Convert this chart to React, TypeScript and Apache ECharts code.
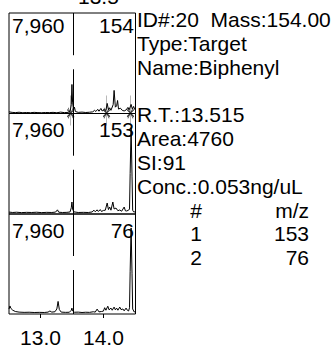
import React, { useEffect, useRef } from "react";
import * as echarts from "echarts";

// Retention-time window shown in every trace panel (minutes)
const rtMin = 12.5;
const rtMax = 14.51;
const timeTicks = [13.0, 14.0];
const topTimeLabel = "13.5";

// All panels share one intensity full scale
const fullScale = 7960;
const retentionTime = 13.515;

// Extracted-ion traces: [retention time, intensity]
const ionLabels = ["154", "153", "76"];

const trace154: number[][] = [
  [12.5, 130], [12.55, 90], [12.6, 70], [12.66, 100], [12.72, 60], [12.78, 80],
  [12.84, 60], [12.9, 90], [12.96, 70], [13.02, 60], [13.08, 80], [13.14, 70],
  [13.2, 90], [13.26, 60], [13.32, 110], [13.38, 70], [13.44, 90], [13.47, 150],
  [13.49, 700], [13.5, 2300], [13.51, 900], [13.525, 300], [13.54, 500], [13.555, 160],
  [13.6, 90], [13.66, 110], [13.72, 80], [13.78, 100], [13.83, 130], [13.86, 250],
  [13.88, 160], [13.91, 330], [13.93, 180], [13.96, 400], [13.98, 200], [14.01, 300],
  [14.04, 250], [14.06, 800], [14.08, 300], [14.1, 450], [14.12, 250], [14.155, 700],
  [14.17, 1830], [14.19, 500], [14.21, 600], [14.225, 1030], [14.24, 350], [14.27, 420],
  [14.3, 250], [14.33, 200], [14.36, 280], [14.39, 480], [14.41, 300], [14.44, 720],
  [14.46, 350], [14.48, 560], [14.5, 300],
];

const trace153: number[][] = [
  [12.5, 150], [12.56, 120], [12.62, 140], [12.7, 110], [12.78, 130], [12.86, 120],
  [12.94, 140], [13.02, 110], [13.1, 130], [13.18, 120], [13.24, 150], [13.27, 330],
  [13.29, 140], [13.35, 120], [13.42, 130], [13.47, 160], [13.49, 500], [13.5, 950],
  [13.51, 400], [13.53, 170], [13.6, 120], [13.68, 130], [13.76, 120], [13.82, 160],
  [13.85, 300], [13.87, 180], [13.9, 330], [13.92, 200], [13.95, 350], [13.97, 200],
  [14.0, 280], [14.03, 300], [14.06, 870], [14.08, 350], [14.1, 550], [14.12, 300],
  [14.15, 950], [14.17, 400], [14.2, 470], [14.23, 260], [14.26, 320], [14.29, 220],
  [14.33, 550], [14.35, 250], [14.37, 240], [14.4, 300], [14.415, 400], [14.425, 3200],
  [14.44, 6850], [14.455, 3000], [14.465, 300], [14.48, 170], [14.51, 160],
];

const trace76: number[][] = [
  [12.5, 400], [12.515, 640], [12.53, 450], [12.56, 300], [12.6, 200], [12.66, 150],
  [12.74, 130], [12.82, 140], [12.9, 120], [12.98, 130], [13.06, 120], [13.12, 150],
  [13.15, 240], [13.18, 150], [13.23, 180], [13.26, 400], [13.28, 1000], [13.3, 350],
  [13.33, 150], [13.4, 130], [13.46, 140], [13.49, 300], [13.5, 470], [13.51, 250],
  [13.54, 140], [13.6, 150], [13.66, 120], [13.72, 140], [13.78, 130], [13.84, 180],
  [13.87, 150], [13.9, 390], [13.93, 170], [13.97, 200], [14.0, 230], [14.02, 500],
  [14.04, 300], [14.07, 620], [14.09, 330], [14.12, 470], [14.14, 300], [14.17, 550],
  [14.19, 330], [14.21, 470], [14.23, 300], [14.26, 550], [14.28, 350], [14.31, 400],
  [14.33, 250], [14.36, 470], [14.38, 300], [14.4, 240], [14.415, 500], [14.425, 3400],
  [14.44, 6850], [14.455, 3200], [14.465, 400], [14.49, 160], [14.51, 200],
];

const traces = [trace154, trace153, trace76];

// Peak start / end markers on the quantitation ion trace
const integrationMarks = [13.48, 14.05, 14.43];

// Compound information block
const infoLines = [
  "ID#:20  Mass:154.00",
  "Type:Target",
  "Name:Biphenyl",
  "",
  "R.T.:13.515",
  "Area:4760",
  "SI:91",
  "Conc.:0.053ng/uL",
];
const ionTableHeader = ["#", "m/z"];
const ionTableRows = [
  ["1", "153"],
  ["2", "76"],
];

const FONT = '"Liberation Sans", Arial, Helvetica, sans-serif';
const FS = 21;

const panels = [
  { top: 13, height: 100.5 },
  { top: 113.5, height: 100.5 },
  { top: 214, height: 103 },
];
const plotLeft = 9;
const plotWidth = 126.5;

const arrowPath =
  "path://M5 0 L5 20 M2 14 L5 20 L8 14 M5 20 L5 34 M2 26 L5 20 L8 26 M1 16 L9 24 M9 16 L1 24";

function txt(text: string, x: number, y: number, align: string = "left") {
  return {
    type: "text",
    silent: true,
    style: {
      text,
      x,
      y,
      fill: "#000",
      fontSize: FS,
      fontFamily: FONT,
      align,
      textAlign: align,
      verticalAlign: "top",
      textVerticalAlign: "top",
    },
  };
}

export default function App() {
  const ref = useRef<HTMLDivElement>(null);

  useEffect(() => {
    if (!ref.current) return;
    const chart = echarts.init(ref.current, undefined, { renderer: "svg" });

    const grid = panels.map((p) => ({
      left: plotLeft,
      top: p.top,
      width: plotWidth,
      height: p.height,
      show: true,
      borderColor: "#000",
      borderWidth: 1,
      backgroundColor: "transparent",
      containLabel: false,
    }));

    const xAxis = panels.map((_, i) => ({
      type: "value",
      gridIndex: i,
      min: rtMin,
      max: rtMax,
      axisLine: { show: false },
      splitLine: { show: false },
      axisTick: {
        show: i === panels.length - 1,
        inside: false,
        length: 4,
        customValues: timeTicks,
        lineStyle: { color: "#000", width: 1 },
      },
      axisLabel: {
        show: i === panels.length - 1,
        customValues: timeTicks,
        formatter: (v: number) => v.toFixed(1),
        margin: 13,
        color: "#000",
        fontSize: FS,
        fontFamily: FONT,
      },
    }));

    const yAxis = panels.map((_, i) => ({
      type: "value",
      gridIndex: i,
      min: 0,
      max: fullScale,
      show: false,
    }));

    const series: any[] = traces.map((data, i) => ({
      type: "line",
      xAxisIndex: i,
      yAxisIndex: i,
      data,
      symbol: "none",
      clip: true,
      lineStyle: { color: "#000", width: 1 },
      markLine: {
        silent: true,
        symbol: "none",
        label: { show: false },
        lineStyle: { color: "#000", width: 1, type: "solid" },
        data: [
          [{ coord: [retentionTime, 0] }, { coord: [retentionTime, fullScale * 0.44] }],
          [{ coord: [retentionTime, fullScale * 0.58] }, { coord: [retentionTime, fullScale] }],
        ],
      },
    }));

    series.push({
      type: "scatter",
      xAxisIndex: 0,
      yAxisIndex: 0,
      clip: false,
      silent: true,
      symbol: arrowPath,
      symbolSize: [7, 30],
      symbolOffset: [0, -3],
      itemStyle: { color: "transparent", borderColor: "#000", borderWidth: 0.7 },
      data: integrationMarks.map((t) => [t, 0]),
      z: 5,
    });

    const graphics: any[] = [];
    const scaleText = fullScale.toLocaleString("en-US");
    const labelTops = [15, 119, 220];
    panels.forEach((_, i) => {
      graphics.push(txt(scaleText, 12, labelTops[i]));
      graphics.push(txt(ionLabels[i], 134, labelTops[i], "right"));
    });
    graphics.push(txt(topTimeLabel, 78, -14));

    const infoX = 137;
    const lineTop0 = 9.2;
    const lineStep = 23.8;
    infoLines.forEach((line, k) => {
      if (line) graphics.push(txt(line, infoX, lineTop0 + k * lineStep));
    });
    const tableRows = [ionTableHeader, ...ionTableRows];
    tableRows.forEach((row, r) => {
      const y = lineTop0 + (infoLines.length + r) * lineStep;
      graphics.push(txt(row[0], 196, y, "center"));
      graphics.push(txt(row[1], 309, y, "right"));
    });

    chart.setOption({
      animation: false,
      grid,
      xAxis,
      yAxis,
      series,
      graphic: { elements: graphics },
    });

    return () => chart.dispose();
  }, []);

  return (
    <div
      ref={ref}
      style={{ position: "absolute", left: 0, top: 0, width: 332, height: 348, background: "#fff" }}
    />
  );
}
